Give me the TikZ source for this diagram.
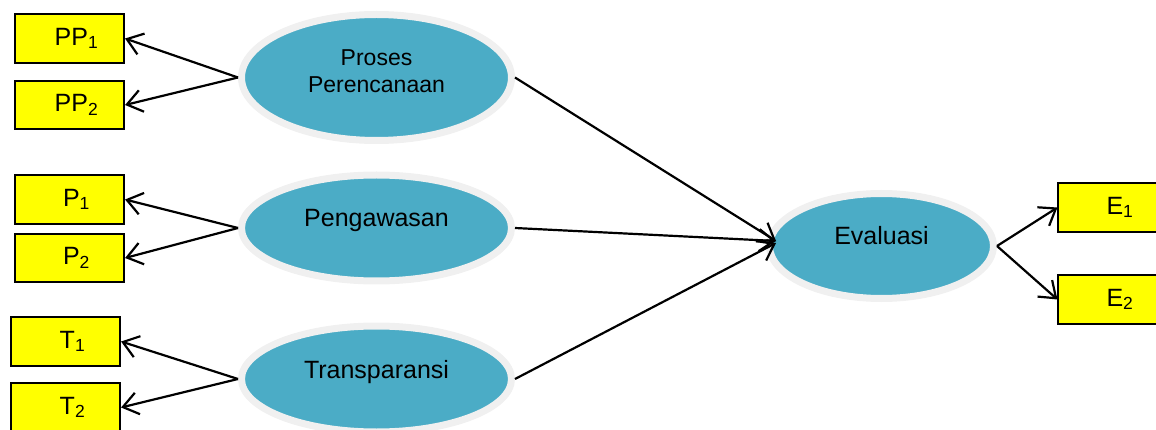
\documentclass[tikz,border=0pt]{standalone}
\usepackage{fontspec}
\setmainfont{Liberation Sans}
\usetikzlibrary{shapes.geometric, arrows.meta}
\definecolor{aqua}{HTML}{4BACC6}
\definecolor{halo}{HTML}{F0F0F0}
\definecolor{ybox}{HTML}{FFFF00}

\begin{document}
\begin{tikzpicture}[x=1pt, y=-1pt, line width=2.2pt,
		latent/.style = {ellipse, fill=aqua, draw=halo, line width=7pt, minimum width=270pt, minimum height=106pt, font=\fontsize{25}{29}\selectfont, text height=16pt, text depth=18pt},
		ind/.style = {draw, fill=ybox, line width=1.6pt, minimum width=109.5pt, minimum height=48.5pt, inner sep=0pt, font=\fontsize{25}{29}\selectfont, execute at begin node=\hskip14pt},
		arr/.style = {-{Straight Barb[length=15pt, width=22pt]}}]
		\useasboundingbox (0,0) rectangle (1156,430);
		\node[latent, minimum height=126pt, align=center, font=\fontsize{23}{27}\selectfont, text height=, text depth=] (pp) at (376.5,77.5) {Proses\\Perencanaan\\[-23pt]\strut};
		\node[latent] (peng) at (376.5,228) {Pengawasan};
		\node[latent] (trans) at (376.5,379) {Transparansi};
		\node[latent, minimum width=224pt, minimum height=105pt] (ev) at (881.5,246) {Evaluasi};
		
		\node[ind] (pp1) at (69.5,38.5) {PP\textsubscript{1}};
		\node[ind] (pp2) at (69.5,105) {PP\textsubscript{2}};
		\node[ind] (p1) at (69.5,199.5) {P\textsubscript{1}};
		\node[ind] (p2) at (69.5,258) {P\textsubscript{2}};
		\node[ind] (t1) at (65.5,341.5) {T\textsubscript{1}};
		\node[ind] (t2) at (65.5,407.5) {T\textsubscript{2}};
		\node[ind] (e1) at (1113,207.5) {E\textsubscript{1}};
		\node[ind] (e2) at (1113,299.5) {E\textsubscript{2}};
		
		\draw[arr] (pp.west) -- (pp1.east);
		\draw[arr] (pp.west) -- (pp2.east);
		\draw[arr] (peng.west) -- (p1.east);
		\draw[arr] (peng.west) -- (p2.east);
		\draw[arr] (trans.west) -- (t1.east);
		\draw[arr] (trans.west) -- (t2.east);
		\draw[arr] (pp.east) -- ([xshift=10pt,yshift=5pt]ev.west);
		\draw[arr] (peng.east) -- ([xshift=10pt,yshift=5pt]ev.west);
		\draw[arr] (trans.east) -- ([xshift=10pt,yshift=3pt]ev.west);
		\draw[arr] (ev.east) -- (e1.west);
		\draw[arr] (ev.east) -- (e2.west);
	\end{tikzpicture}
\end{document}
